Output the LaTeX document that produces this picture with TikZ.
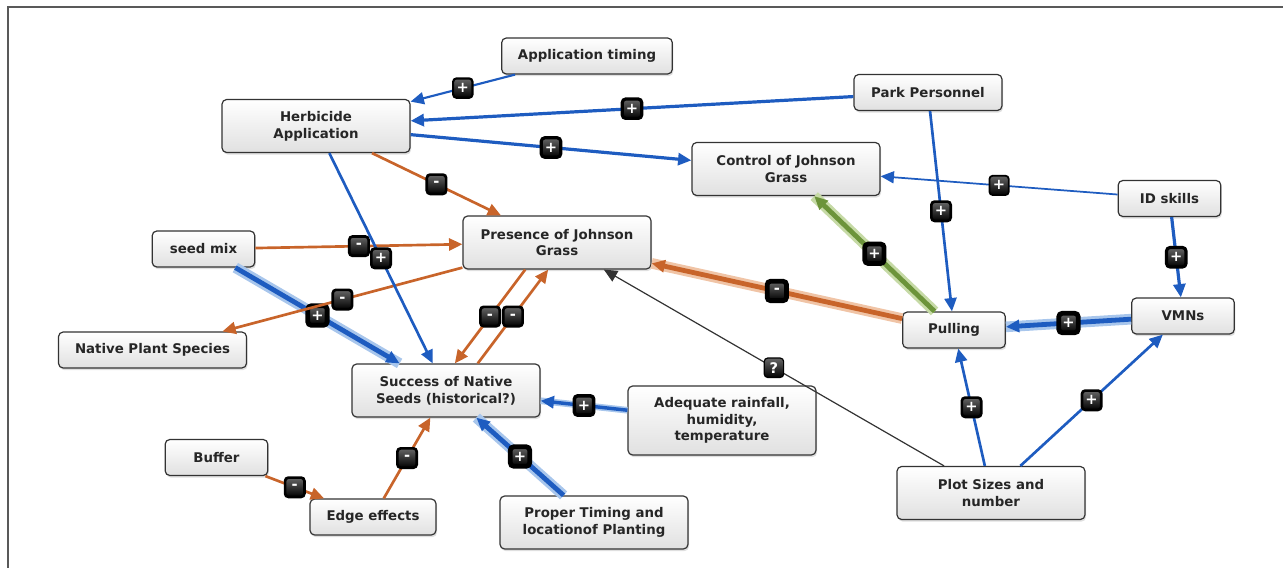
\documentclass[tikz,border=0pt]{standalone}
\usepackage{fontspec}
\setmainfont{DejaVu Sans}
\usepackage{tikz}
\usetikzlibrary{arrows.meta,shadows}

\definecolor{linkblue}{RGB}{30,92,192}
\definecolor{haloblue}{RGB}{168,198,236}
\definecolor{linkorange}{RGB}{200,100,42}
\definecolor{haloorange}{RGB}{240,196,166}
\definecolor{linkgreen}{RGB}{108,148,58}
\definecolor{halogreen}{RGB}{198,218,166}

\tikzset{
  box/.style={draw=black!80, line width=0.9pt, rounded corners=3.5pt,
    top color=white, bottom color=black!12, text=black!85, align=center,
    font=\bfseries\fontsize{10}{12.5}\selectfont, inner sep=0pt,
    drop shadow={shadow xshift=0.8pt, shadow yshift=-1.6pt, opacity=0.25}},
  widebox/.style={box, minimum width=141pt},
  smallbox/.style={box, minimum width=77pt, minimum height=27pt},
  oneline/.style={minimum height=27pt},
  twoline/.style={minimum height=39.75pt},
  badge/.style={rounded corners=2.5pt, top color=black!60, bottom color=black,
    draw=black, text=white, font=\bfseries\fontsize{11}{11}\selectfont,
    minimum size=14.5pt, inner sep=0pt},
  tip/.style={-{Triangle[length=10pt,width=9pt]}},
  poslink/.style={draw=linkblue, line width=2pt, tip},
  neglink/.style={draw=linkorange, line width=2pt, tip},
  unklink/.style={draw=black!80, line width=0.9pt, tip},
  halo/.style={line width=3.6pt, preaction={draw=#1, -, line width=8pt}}
}

\begin{document}
\begin{tikzpicture}[x=0.75pt,y=-0.75pt]
  \useasboundingbox (0,0) rectangle (1283,568);
  \draw[black!65, line width=1.5pt] (8,568) -- (8,7) -- (1283,7);

  \node[widebox, twoline] (herb) at (316,126) {Herbicide\\Application};
  \node[box, oneline, minimum width=128pt] (apptime) at (587,56) {Application timing};
  \node[box, oneline, minimum width=111pt] (park) at (928,92.5) {Park Personnel};
  \node[widebox, twoline] (control) at (786,169) {Control of Johnson\\Grass};
  \node[smallbox] (idskills) at (1169.5,198.5) {ID skills};
  \node[widebox, twoline] (presence) at (557,242.5) {Presence of Johnson\\Grass};
  \node[smallbox] (seedmix) at (203.5,249) {seed mix};
  \node[widebox, oneline] (native) at (152.5,350) {Native Plant Species};
  \node[widebox, twoline] (success) at (446,390.5) {Success of Native\\Seeds (historical?)};
  \node[smallbox] (pulling) at (954,330) {Pulling};
  \node[smallbox] (vmns) at (1183,316) {VMNs};
  \node[widebox, minimum height=51.75pt] (rainfall) at (722,420.5) {Adequate rainfall,\\humidity,\\temperature};
  \node[smallbox] (buffer) at (216.5,457.5) {Buffer};
  \node[box, oneline, minimum width=94.5pt] (edgefx) at (373,517) {Edge effects};
  \node[widebox, twoline] (timing) at (594,522.5) {Proper Timing and\\locationof Planting};
  \node[widebox, twoline] (plot) at (991,493) {Plot Sizes and\\number};

  \draw[poslink, halo=haloblue] (seedmix) -- node[badge]{+} (success);
  \draw[poslink, halo=haloblue] (timing) -- node[badge]{+} (success);
  \draw[poslink, halo=haloblue] (vmns) -- node[badge]{+} (pulling);
  \draw[neglink, halo=haloorange] (pulling) -- node[badge]{-} (presence);
  \draw[draw=linkgreen, tip, halo=halogreen] (pulling) -- node[badge]{+} (control);
  \draw[poslink, line width=2.6pt, preaction={draw=haloblue, -, line width=5pt}] (rainfall) -- node[badge]{+} (success);

  \draw[neglink] (presence) -- node[badge]{-} (native);
  \draw[neglink] (seedmix) -- node[badge]{-} (presence);
  \draw[neglink] (herb) -- node[badge]{-} (presence);
  \draw[neglink, transform canvas={xshift=-8.6pt}] (presence) -- node[badge]{-} (success);
  \draw[neglink, transform canvas={xshift=8.6pt}] (success) -- node[badge]{-} (presence);
  \draw[neglink] (buffer) -- node[badge]{-} (edgefx);
  \draw[neglink] (edgefx) -- node[badge]{-} (success);

  \draw[poslink] (herb) -- node[badge]{+} (success);
  \draw[poslink, line width=1.6pt] (apptime) -- node[badge]{+} (herb);
  \draw[poslink, line width=2.4pt] (park) -- node[badge]{+} (herb);
  \draw[poslink, line width=2.4pt] (herb) -- node[badge]{+} (control);
  \draw[poslink] (park) -- node[badge]{+} (pulling);
  \draw[poslink, line width=1.3pt] (idskills) -- node[badge]{+} (control);
  \draw[poslink, line width=2.4pt] (idskills) -- node[badge]{+} (vmns);
  \draw[poslink] (plot) -- node[badge]{+} (pulling);
  \draw[poslink] (plot) -- node[badge]{+} (vmns);
  \draw[unklink] (plot) -- node[badge]{?} (presence);
\end{tikzpicture}
\end{document}
